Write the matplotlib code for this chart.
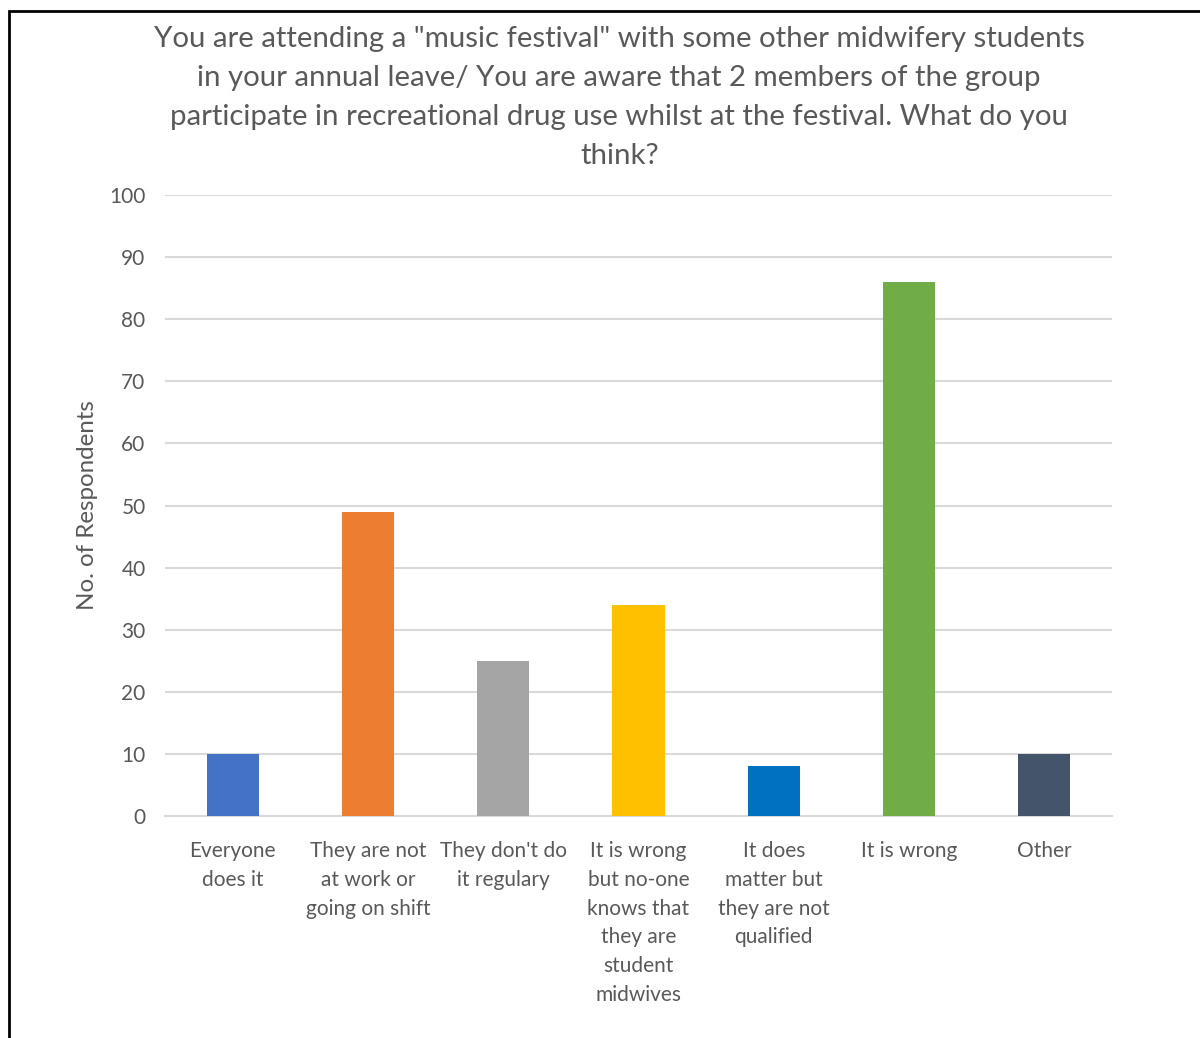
import matplotlib

matplotlib.use("Agg")
import matplotlib.pyplot as plt
from matplotlib.patches import Rectangle

INK = "#595959"
GRID = "#d9d9d9"

categories = [
    "Everyone\ndoes it",
    "They are not\nat work or\ngoing on shift",
    "They don't do\nit regulary",
    "It is wrong\nbut no-one\nknows that\nthey are\nstudent\nmidwives",
    "It does\nmatter but\nthey are not\nqualified",
    "It is wrong",
    "Other",
]
respondents = [10, 49, 25, 34, 8, 86, 10]
colors = ["#4472c4", "#ed7d31", "#a5a5a5", "#ffc000", "#0070c0", "#70ad47", "#44546a"]

title = ('You are attending a "music festival" with some other midwifery students\n'
         "in your annual leave/ You are aware that 2 members of the group\n"
         "participate in recreational drug use whilst at the festival. What do you\n"
         "think?")

plt.rcParams["font.family"] = ["Lato", "DejaVu Sans"]

fig = plt.figure(figsize=(12, 10.38), dpi=100)
ax = fig.add_axes([0.1375, 0.2139, 0.7892, 0.5982])

x = range(len(categories))
ax.bar(x, respondents, width=0.385, color=colors, zorder=3)
ax.set_xlim(-0.5, len(categories) - 0.5)
ax.set_ylim(0, 100)
ax.set_yticks(range(0, 101, 10))
ax.yaxis.grid(True, color=GRID, linewidth=1.5, zorder=0)
ax.set_axisbelow(True)
ax.set_xticks(list(x))
ax.set_xticklabels(categories, fontsize=15, color=INK, linespacing=1.55, va="top")
ax.tick_params(axis="x", length=0, pad=18)
ax.tick_params(axis="y", length=0, pad=14, labelsize=15, labelcolor=INK)
for side in ("top", "right", "left"):
    ax.spines[side].set_visible(False)
ax.spines["bottom"].set_color(GRID)
ax.spines["bottom"].set_linewidth(1.5)

ax.set_ylabel("No. of Respondents", fontsize=17.4, color=INK, labelpad=8)

fig.text(0.516, 0.975, title, ha="center", va="top", fontsize=21.2,
         color=INK, linespacing=1.62)

# chart frame runs off the right and bottom edges
fig.patches.append(Rectangle((9 / 1200, -0.1), 1.2, 1 - 11 / 1038 + 0.1,
                             transform=fig.transFigure, fill=False,
                             edgecolor="black", linewidth=2))

fig.savefig("out.png", facecolor="white")
